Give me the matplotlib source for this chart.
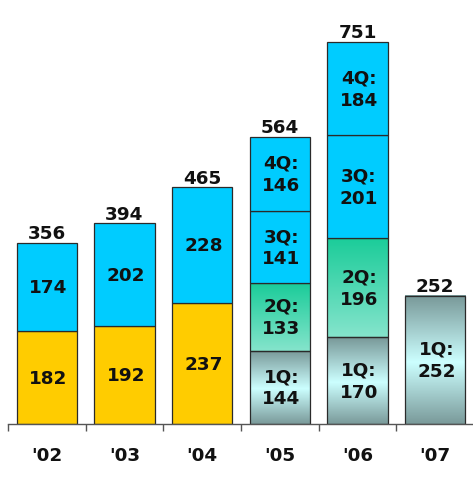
import numpy as np
import matplotlib
matplotlib.use("Agg")
import matplotlib.pyplot as plt
from matplotlib.colors import to_rgb

# ---- data ----
years = ["'02", "'03", "'04", "'05", "'06", "'07"]
first_half = [182, 192, 237, 0, 0, 0]     # yellow
second_half = [174, 202, 228, 0, 0, 0]    # cyan
q1 = [0, 0, 0, 144, 170, 252]
q2 = [0, 0, 0, 133, 196, 0]
q3 = [0, 0, 0, 141, 201, 0]
q4 = [0, 0, 0, 146, 184, 0]
totals = [356, 394, 465, 564, 751, 252]

YELLOW = "#FFCC00"
CYAN = "#00CCFF"
EDGE = "#2a2a2a"

fig = plt.figure(figsize=(4.73, 5.02), dpi=100)
ax = fig.add_axes([8 / 473, 77 / 502, 466 / 473, 425 / 502])

x = np.arange(len(years))
width = 0.78
fs = 13.2


def gradient(stops, n=256):
    pos = np.array([s[0] for s in stops])
    cols = np.array([to_rgb(s[1]) for s in stops])
    t = np.linspace(0, 1, n)
    arr = np.stack([np.interp(t, pos, cols[:, k]) for k in range(3)], axis=-1)
    return arr[:, None, :]  # row 0 = top


grad_q1 = gradient([(0.0, "#789898"), (0.52, "#CCFFFF"), (1.0, "#7A9A9A")])
grad_q2 = gradient([(0.0, "#1ACC99"), (1.0, "#85E4CC")])


def draw_segment(i, bottom, h, color=None, grad=None, label=None):
    if h <= 0:
        return
    x0 = x[i] - width / 2
    if grad is not None:
        ax.imshow(grad, extent=(x0, x0 + width, bottom, bottom + h),
                  aspect="auto", zorder=1, interpolation="bilinear")
        ax.bar(x[i], h, width, bottom=bottom, facecolor="none",
               edgecolor=EDGE, linewidth=0.9, zorder=2)
    else:
        ax.bar(x[i], h, width, bottom=bottom, color=color,
               edgecolor=EDGE, linewidth=0.9, zorder=2)
    if label is not None:
        ax.text(x[i] + 0.02, bottom + h / 2, label, ha="center", va="center",
                fontsize=fs, fontweight="bold", color="#111111", zorder=3,
                linespacing=1.3)


for i in range(len(years)):
    b = 0
    draw_segment(i, b, first_half[i], color=YELLOW, label=str(first_half[i]))
    b += first_half[i]
    draw_segment(i, b, second_half[i], color=CYAN, label=str(second_half[i]))
    b += second_half[i]
    draw_segment(i, b, q1[i], grad=grad_q1, label=f"1Q:\n{q1[i]}")
    b += q1[i]
    draw_segment(i, b, q2[i], grad=grad_q2, label=f"2Q:\n{q2[i]}")
    b += q2[i]
    draw_segment(i, b, q3[i], color=CYAN, label=f"3Q:\n{q3[i]}")
    b += q3[i]
    draw_segment(i, b, q4[i], color=CYAN, label=f"4Q:\n{q4[i]}")
    b += q4[i]
    ax.annotate(str(totals[i]), (x[i], b), xytext=(0, 0.5),
                textcoords="offset points", ha="center", va="bottom",
                fontsize=fs, fontweight="bold", color="#111111")

ax.set_xlim(-0.5, len(years) - 0.5)
ax.set_ylim(0, 835)

for s in ["top", "right", "left"]:
    ax.spines[s].set_visible(False)
ax.spines["bottom"].set_color("#555555")
ax.spines["bottom"].set_linewidth(1.0)
ax.set_yticks([])
ax.set_xticks(x)
ax.set_xticklabels(years, fontsize=fs, fontweight="bold", color="#111111")
ax.tick_params(axis="x", which="major", length=0, pad=16)
ax.set_xticks(np.arange(-0.5, len(years) + 0.5, 1), minor=True)
ax.tick_params(axis="x", which="minor", length=5, width=1, color="#555555",
               direction="out")

fig.savefig("out.png", dpi=100)
